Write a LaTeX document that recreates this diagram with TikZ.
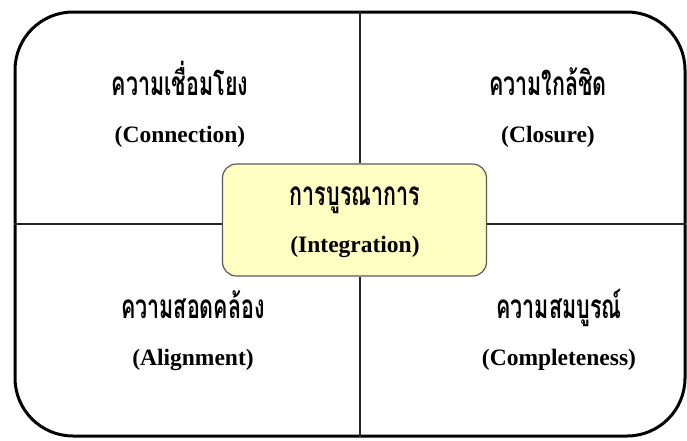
\documentclass[tikz,border=0pt]{standalone}
\usepackage{fontspec}
\setmainfont{Liberation Serif}
\newfontfamily\thaifont[Script=Thai]{Loma}
\usepackage{tikz}
\usetikzlibrary{positioning, calc}
\definecolor{hubfill}{RGB}{255,255,196}
\definecolor{hubline}{RGB}{90,90,90}
\tikzstyle{Divider} = [line width=1.2pt, black!85]
\newcommand{\tall}[1]{\scalebox{1}[1.55]{#1}}

\begin{document}
\begin{tikzpicture}[x=1pt, y=-1pt,
thai/.style={font=\thaifont\bfseries\fontsize{21.5}{24}\selectfont, inner sep=0pt, anchor=base},
eng/.style={font=\bfseries\fontsize{23.5}{26}\selectfont, inner sep=0pt}
]
 \useasboundingbox (0,0) rectangle (687,440);

 % outer frame and centre box
 \node [draw, line width=3pt, rounded corners=58pt, minimum width=670pt, minimum height=424pt, inner sep=0pt] (frame) at (350,224) {};
 \node [draw=hubline, line width=1.2pt, fill=hubfill, rounded corners=14pt, minimum width=264pt, minimum height=112pt, inner sep=0pt] (hub) at (354.5,220) {};

 \coordinate (n) at (360,11);
 \coordinate (s) at (360,437);
 \coordinate (w) at (14,224);
 \coordinate (e) at (686,224);

 \draw[Divider] (n) -- (n |- hub.north);
 \draw[Divider] (s) -- (s |- hub.south);
 \draw[Divider] (w) -- (w -| hub.west);
 \draw[Divider] (e) -- (e -| hub.east);

 % texts
 \node [thai] (conn) at (180,95) {\tall{ความเชื่อมโยง}};
 \node [eng, below =47pt of conn.base, anchor=base] (conn-en) {(Connection)};
 \node [thai] (clos) at (548,95) {\tall{ความใกล้ชิด}};
 \node [eng, below =47pt of clos.base, anchor=base] (clos-en) {(Closure)};
 \node [thai] (integ) at (355,205) {\tall{การบูรณาการ}};
 \node [eng, below =47pt of integ.base, anchor=base] (integ-en) {(Integration)};
 \node [thai] (align) at (193,318) {\tall{ความสอดคล้อง}};
 \node [eng, below =47pt of align.base, anchor=base] (align-en) {(Alignment)};
 \node [thai] (compl) at (559,318) {\tall{ความสมบูรณ์}};
 \node [eng, below =47pt of compl.base, anchor=base] (compl-en) {(Completeness)};

\end{tikzpicture}
\end{document}
